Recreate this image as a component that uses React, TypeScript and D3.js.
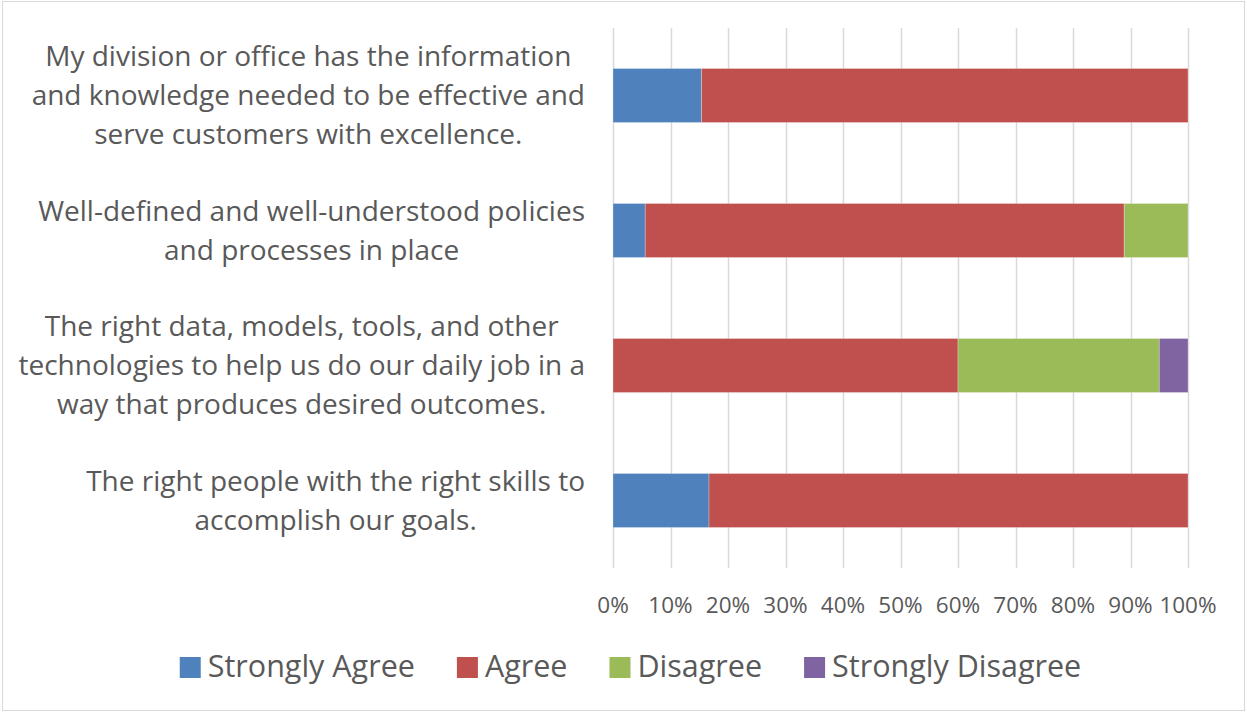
import React, { useEffect, useRef } from "react";
import * as d3 from "d3";

const categories: string[][] = [
  ["My division or office has the information", "and knowledge needed to be effective and", "serve customers with excellence."],
  ["Well-defined and well-understood policies", "and processes in place"],
  ["The right data, models, tools, and other", "technologies to help us do our daily job in a", "way that produces desired outcomes."],
  ["The right people with the right skills to", "accomplish our goals."],
];
const seriesNames = ["Strongly Agree", "Agree", "Disagree", "Strongly Disagree"];
const stronglyAgree = [15.4, 5.6, 0, 16.7];
const agree = [84.6, 83.3, 60, 83.3];
const disagree = [0, 11.1, 35, 0];
const stronglyDisagree = [0, 0, 5, 0];
const colors = ["#4F81BD", "#C0504D", "#9BBB59", "#8064A2"];
const ticks = [0, 10, 20, 30, 40, 50, 60, 70, 80, 90, 100];

const W = 1247;
const H = 712;
const FONT = "'Open Sans', sans-serif";
const TEXT = "#595959";

export default function App() {
  const ref = useRef<SVGSVGElement>(null);
  useEffect(() => {
    const svg = d3.select(ref.current);
    svg.selectAll("*").remove();

    svg.append("rect").attr("x", 2.5).attr("y", 1.5).attr("width", W - 5).attr("height", H - 3)
      .attr("fill", "#fff").attr("stroke", "#D9D9D9").attr("stroke-width", 1);

    const x = d3.scaleLinear().domain([0, 100]).range([613, 1188]);
    const y = d3.scaleBand<number>().domain(d3.range(categories.length)).range([28, 568])
      .paddingInner(0.6).paddingOuter(0.3);

    // gridlines
    svg.append("g").selectAll("line").data(ticks).join("line")
      .attr("x1", (d) => Math.round(x(d)) + 0.5).attr("x2", (d) => Math.round(x(d)) + 0.5)
      .attr("y1", 28).attr("y2", 568)
      .attr("stroke", "#D9D9D9").attr("stroke-width", 1.5);

    // tick labels
    svg.append("g").selectAll("text").data(ticks).join("text")
      .attr("x", (d) => x(d)).attr("y", 613)
      .attr("text-anchor", "middle")
      .attr("font-family", FONT).attr("font-size", 22.5).attr("fill", TEXT)
      .text((d) => `${d}%`);

    // stacked bars
    const rows = categories.map((_, i) => ({
      i,
      vals: [stronglyAgree[i], agree[i], disagree[i], stronglyDisagree[i]],
    }));
    const bars = svg.append("g");
    rows.forEach((r) => {
      let acc = 0;
      r.vals.forEach((v, s) => {
        if (v > 0) {
          bars.append("rect")
            .attr("x", x(acc)).attr("width", x(acc + v) - x(acc))
            .attr("y", y(r.i)!).attr("height", y.bandwidth())
            .attr("fill", colors[s])
            .attr("stroke", "#ffffff").attr("stroke-opacity", 0.35).attr("stroke-width", 0.75);
        }
        acc += v;
      });
    });

    // category labels
    const lineH = 39;
    const rightEdge = 585;
    categories.forEach((lines, i) => {
      const cy = y(i)! + y.bandwidth() / 2;
      const g = svg.append("g");
      const texts = lines.map((ln, k) =>
        g.append("text")
          .attr("y", cy + (k - (lines.length - 1) / 2) * lineH + 9.5)
          .attr("text-anchor", "middle")
          .attr("font-family", FONT).attr("font-size", 28).attr("fill", TEXT)
          .text(ln)
      );
      const maxW = d3.max(texts, (t) => (t.node() as SVGTextElement).getComputedTextLength()) || 0;
      texts.forEach((t) => t.attr("x", rightEdge - maxW / 2));
    });

    // legend
    const lg = svg.append("g");
    const sq = 21;
    const gapSqText = 7;
    const gapItems = 42;
    const items = seriesNames.map((name, s) => {
      const t = lg.append("text").attr("y", 677)
        .attr("font-family", FONT).attr("font-size", 30.5).attr("fill", TEXT).text(name);
      const w = (t.node() as SVGTextElement).getComputedTextLength();
      return { t, w, s };
    });
    const total = d3.sum(items, (it) => sq + gapSqText + it.w) + gapItems * (items.length - 1);
    let cx = 630.5 - total / 2;
    items.forEach((it) => {
      lg.append("rect").attr("x", cx).attr("y", 657).attr("width", sq).attr("height", sq)
        .attr("fill", colors[it.s]);
      it.t.attr("x", cx + sq + gapSqText);
      cx += sq + gapSqText + it.w + gapItems;
    });
  }, []);

  return (
    <svg ref={ref} width={W} height={H}
      style={{ position: "absolute", left: 0, top: 0, display: "block", background: "#fff" }} />
  );
}
